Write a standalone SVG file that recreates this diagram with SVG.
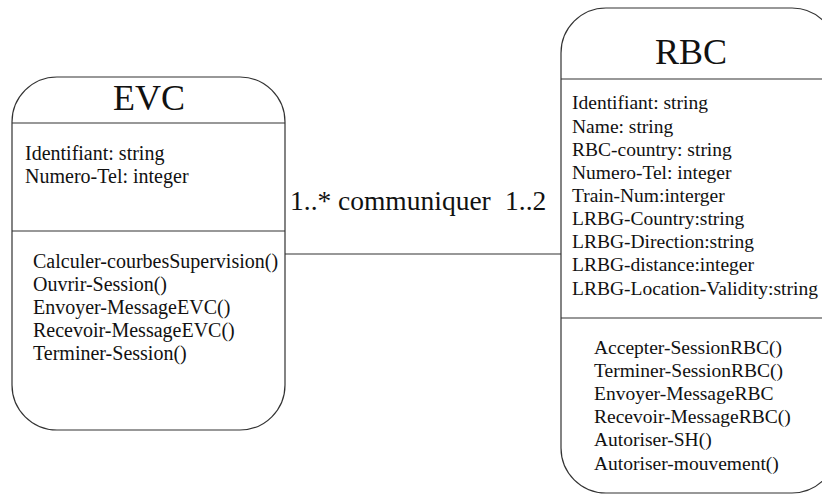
<svg xmlns="http://www.w3.org/2000/svg" width="822" height="498" viewBox="0 0 822 498">
<style>
.box{fill:#fff;stroke:#333;stroke-width:1.2}
.ln{stroke:#333;stroke-width:1.2;fill:none}
text{font-family:"Liberation Serif","Times New Roman",serif;fill:#111}
.t{font-size:36px;text-anchor:middle}
.a{font-size:20px}
.b{font-size:19.5px}
.lab{font-size:27.5px}
</style>
<rect width="822" height="498" fill="#fff"/>
<g id="connectors">
<line class="ln" x1="285" y1="254" x2="561" y2="254"/>
<text class="lab" y="210"><tspan x="290">1..*</tspan><tspan x="338">communiquer</tspan><tspan x="505">1..2</tspan></text>
</g>
<g id="EVC">
<rect class="box" x="12" y="77" width="273" height="353" rx="45" ry="45"/>
<line class="ln" x1="12" y1="123" x2="285" y2="123"/>
<line class="ln" x1="12" y1="231" x2="285" y2="231"/>
<text class="t" x="149" y="110">EVC</text>
<text class="a" x="25" y="160">Identifiant: string</text>
<text class="a" x="25" y="183">Numero-Tel: integer</text>
<text class="a" x="33" y="268">Calculer-courbesSupervision()</text>
<text class="a" x="33" y="291">Ouvrir-Session()</text>
<text class="a" x="33" y="314">Envoyer-MessageEVC()</text>
<text class="a" x="33" y="337">Recevoir-MessageEVC()</text>
<text class="a" x="33" y="360">Terminer-Session()</text>
</g>
<g id="RBC">
<rect class="box" x="561" y="8" width="276" height="485" rx="45" ry="45"/>
<line class="ln" x1="561" y1="79" x2="822" y2="79"/>
<line class="ln" x1="561" y1="318" x2="822" y2="318"/>
<text class="t" x="691" y="64" font-size="32">RBC</text>
<text class="b" x="572" y="109">Identifiant: string</text>
<text class="b" x="572" y="133">Name: string</text>
<text class="b" x="572" y="156">RBC-country: string</text>
<text class="b" x="572" y="179">Numero-Tel: integer</text>
<text class="b" x="572" y="202">Train-Num:interger</text>
<text class="b" x="572" y="225">LRBG-Country:string</text>
<text class="b" x="572" y="248">LRBG-Direction:string</text>
<text class="b" x="572" y="271">LRBG-distance:integer</text>
<text class="b" x="572" y="295">LRBG-Location-Validity:string</text>
<text class="b" x="594" y="354">Accepter-SessionRBC()</text>
<text class="b" x="594" y="377">Terminer-SessionRBC()</text>
<text class="b" x="594" y="400">Envoyer-MessageRBC</text>
<text class="b" x="594" y="423">Recevoir-MessageRBC()</text>
<text class="b" x="594" y="446">Autoriser-SH()</text>
<text class="b" x="594" y="470">Autoriser-mouvement()</text>
</g>
</svg>
